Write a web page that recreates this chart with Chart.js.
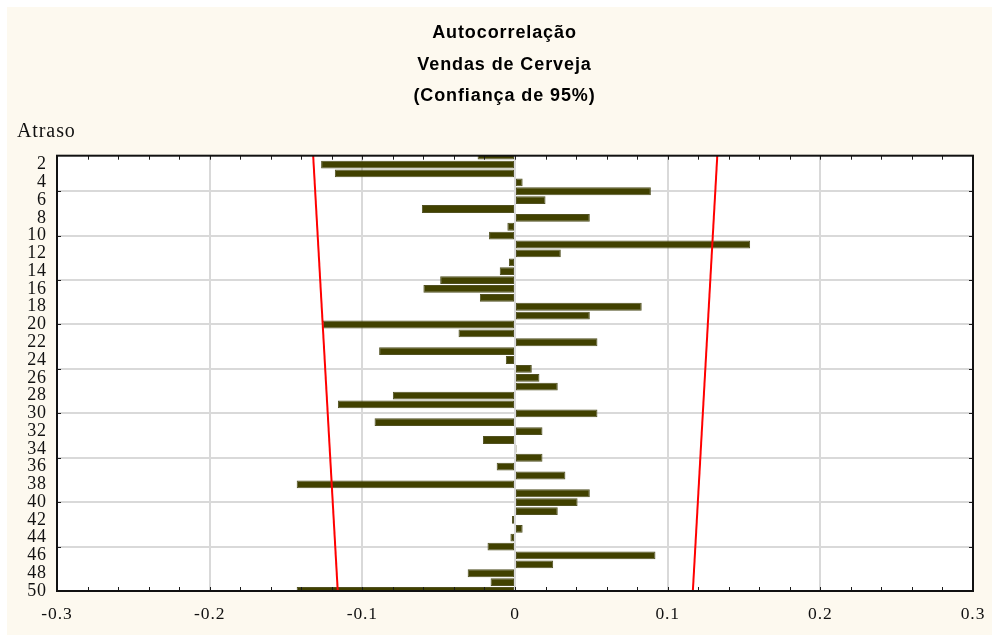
<!DOCTYPE html>
<html lang="pt">
<head>
<meta charset="utf-8">
<title>Autocorrelação – Vendas de Cerveja</title>
<script src="https://cdn.jsdelivr.net/npm/chart.js@4/dist/chart.umd.min.js"></script>
<style>
  html, body { margin: 0; padding: 0; background: #ffffff; }
  #wrap { position: absolute; left: 7px; top: 7px; width: 985px; height: 628px; background: #fdf9ef; }
  canvas { display: block; }
</style>
</head>
<body>
<div id="wrap"><canvas id="acf" width="985" height="628"></canvas></div>
<script>
// Lags (atrasos) 1..50
const lags = [
  1, 2, 3, 4, 5, 6, 7, 8, 9, 10,
  11, 12, 13, 14, 15, 16, 17, 18, 19, 20,
  21, 22, 23, 24, 25, 26, 27, 28, 29, 30,
  31, 32, 33, 34, 35, 36, 37, 38, 39, 40,
  41, 42, 43, 44, 45, 46, 47, 48, 49, 50
];

// Autocorrelation coefficient for each lag
const autocorr = [
  -0.0245, -0.127, -0.118,  0.005,  0.089,  0.020, -0.061,  0.049, -0.005, -0.017,
   0.154,   0.030, -0.004, -0.010, -0.049, -0.060, -0.023,  0.083,  0.049, -0.126,
  -0.037,   0.054, -0.089, -0.006,  0.011,  0.016,  0.028, -0.080, -0.116,  0.054,
  -0.092,   0.018, -0.021,  0.001,  0.018, -0.012,  0.033, -0.143,  0.049,  0.041,
   0.028,  -0.002,  0.005, -0.003, -0.018,  0.092,  0.025, -0.031, -0.016, -0.143
];

// 95% confidence limits at the first and last lag
const limitLags  = [1, 50];
const upperLimit = [0.1325, 0.1165];
const lowerLimit = [-0.1322, -0.1161];

// Axis ticks
const xTicks   = [-0.3, -0.2, -0.1, 0, 0.1, 0.2, 0.3];
const lagTicks = [2, 4, 6, 8, 10, 12, 14, 16, 18, 20, 22, 24, 26, 28, 30,
                  32, 34, 36, 38, 40, 42, 44, 46, 48, 50];
const gridLags = [5, 10, 15, 20, 25, 30, 35, 40, 45];

const X_MIN = -0.3, X_MAX = 0.3, MINOR_STEP = 0.02;
const LETTER_SPACING = '0.9px';
const SERIF = '"Liberation Serif", "Times New Roman", serif';
const SANS = '"Liberation Sans", Arial, sans-serif';

const barPoints   = lags.map((l, i) => ({ x: autocorr[i], y: l }));
const upperPoints = limitLags.map((l, i) => ({ x: upperLimit[i], y: l }));
const lowerPoints = limitLags.map((l, i) => ({ x: lowerLimit[i], y: l }));

// Slightly wider glyph spacing for all canvas text
const spacing = {
  id: 'spacing',
  afterInit(c) { c.ctx.letterSpacing = LETTER_SPACING; },
  beforeUpdate(c) { c.ctx.letterSpacing = LETTER_SPACING; },
  beforeDraw(c) { c.ctx.letterSpacing = LETTER_SPACING; }
};

// White plot area, black frame and short inward tick marks
const frame = {
  id: 'frame',
  beforeDraw(chart) {
    const { ctx, chartArea: a } = chart;
    ctx.save();
    ctx.fillStyle = '#ffffff';
    ctx.fillRect(a.left, a.top, a.right - a.left, a.bottom - a.top);
    ctx.restore();
  },
  afterDraw(chart) {
    const { ctx, chartArea: a, scales } = chart;
    const tl = 4;
    ctx.save();
    ctx.strokeStyle = '#1a1a1a';
    ctx.lineWidth = 1;
    ctx.beginPath();
    for (let i = 0; ; i++) {
      const v = X_MIN + i * MINOR_STEP;
      if (v > X_MAX + 1e-9) break;
      const px = Math.round(scales.x.getPixelForValue(v)) + 0.5;
      ctx.moveTo(px, a.top); ctx.lineTo(px, a.top + tl);
      ctx.moveTo(px, a.bottom); ctx.lineTo(px, a.bottom - tl);
    }
    gridLags.forEach(l => {
      const py = Math.round(scales.y.getPixelForValue(l)) + 0.5;
      ctx.moveTo(a.left, py); ctx.lineTo(a.left + tl, py);
      ctx.moveTo(a.right, py); ctx.lineTo(a.right - tl, py);
    });
    ctx.stroke();
    ctx.lineWidth = 2;
    ctx.strokeStyle = '#111111';
    ctx.strokeRect(a.left, a.top, a.right - a.left, a.bottom - a.top);
    ctx.restore();
  }
};

Chart.defaults.color = '#111111';

new Chart(document.getElementById('acf'), {
  type: 'bar',
  data: {
    datasets: [
      {
        type: 'line',
        data: upperPoints,
        indexAxis: 'y',
        xAxisID: 'x', yAxisID: 'y',
        borderColor: '#ff0000',
        borderWidth: 2,
        pointRadius: 0,
        fill: false,
        order: 0
      },
      {
        type: 'line',
        data: lowerPoints,
        indexAxis: 'y',
        xAxisID: 'x', yAxisID: 'y',
        borderColor: '#ff0000',
        borderWidth: 2,
        pointRadius: 0,
        fill: false,
        order: 0
      },
      {
        type: 'bar',
        data: barPoints,
        xAxisID: 'x', yAxisID: 'y',
        backgroundColor: '#414100',
        borderColor: '#515122',
        borderWidth: 1,
        borderSkipped: false,
        categoryPercentage: 1,
        barPercentage: 0.88,
        order: 1
      }
    ]
  },
  options: {
    indexAxis: 'y',
    responsive: false,
    animation: false,
    devicePixelRatio: 1,
    layout: { padding: { left: 10, right: 0, top: 0, bottom: 0 } },
    plugins: {
      legend: { display: false },
      tooltip: { enabled: false },
      title: {
        display: true,
        text: ['Autocorrelação', 'Vendas de Cerveja', '(Confiança de 95%)'],
        color: '#000000',
        font: { family: SANS, size: 18, weight: 'bold', lineHeight: 1.761 },
        padding: { top: 10, bottom: 0 }
      },
      subtitle: {
        display: true,
        text: 'Atraso',
        align: 'start',
        color: '#111111',
        font: { family: SERIF, size: 20, weight: 'normal', lineHeight: 1.2 },
        padding: { top: 8, bottom: 11.6 }
      }
    },
    scales: {
      x: {
        type: 'linear',
        position: 'bottom',
        min: X_MIN,
        max: X_MAX,
        afterBuildTicks: s => { s.ticks = xTicks.map(v => ({ value: v })); },
        afterFit: s => { s.height = 44; s.paddingLeft = 0; s.paddingRight = 0; },
        ticks: {
          padding: 13,
          maxRotation: 0,
          font: { family: SERIF, size: 17.5 },
          color: '#111111',
          callback: v => String(Math.round(v * 10) / 10)
        },
        grid: { color: '#d9d9d9', lineWidth: 2, drawTicks: false },
        border: { display: false }
      },
      y: {
        type: 'linear',
        position: 'left',
        offset: false,
        min: 1,
        max: 50,
        reverse: true,
        afterBuildTicks: s => { s.ticks = lagTicks.map(v => ({ value: v })); },
        afterFit: s => { s.width = 40; s.paddingTop = 0; s.paddingBottom = 0; },
        ticks: {
          padding: 10,
          autoSkip: false,
          font: { family: SERIF, size: 18 },
          color: '#111111',
          callback: v => String(v)
        },
        grid: { display: false, drawTicks: false, offset: false },
        border: { display: false }
      },
      y2: {
        type: 'linear',
        position: 'right',
        offset: false,
        min: 1,
        max: 50,
        reverse: true,
        afterBuildTicks: s => { s.ticks = gridLags.map(v => ({ value: v })); },
        afterFit: s => { s.width = 19; },
        ticks: { display: false },
        grid: { color: '#d9d9d9', lineWidth: 2, drawTicks: false, offset: false },
        border: { display: false }
      }
    }
  },
  plugins: [spacing, frame]
});
</script>
</body>
</html>
